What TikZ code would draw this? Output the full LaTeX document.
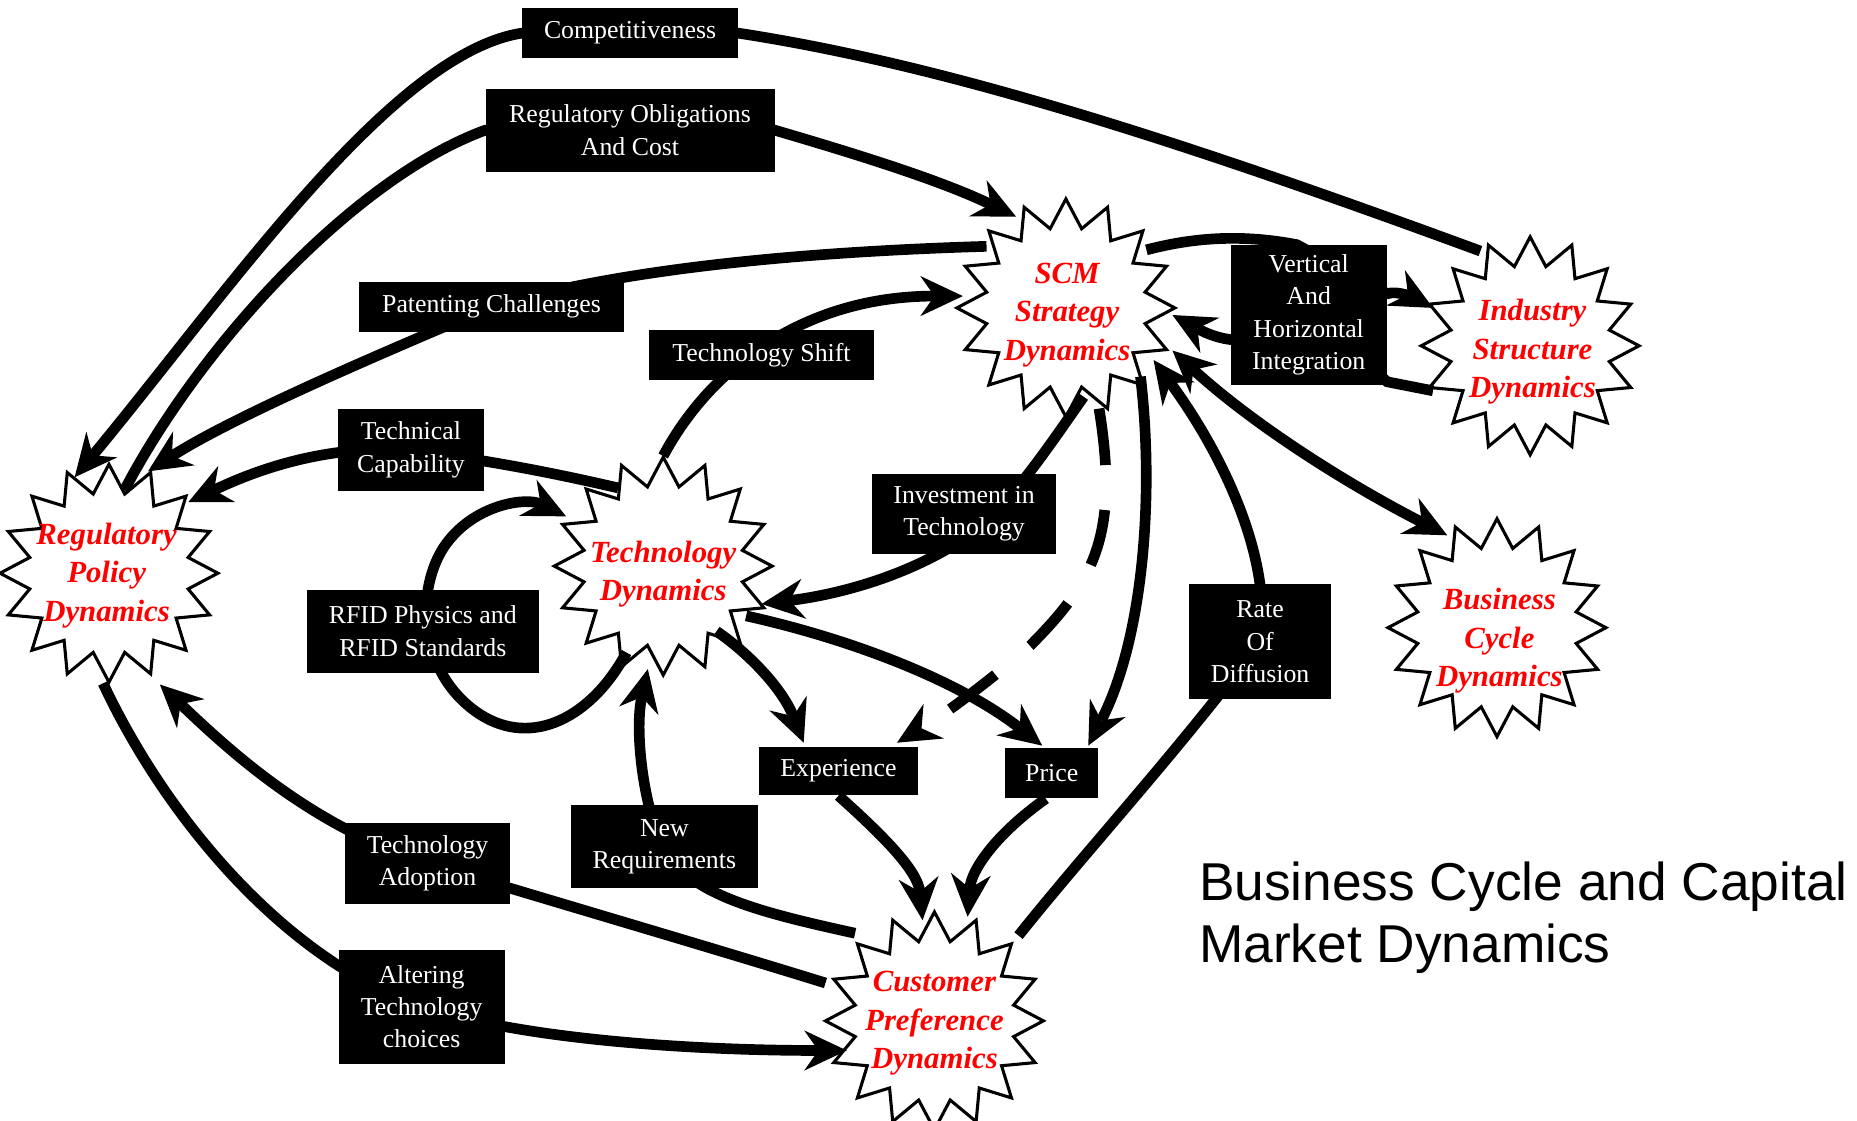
\documentclass[tikz,border=0pt]{standalone}
\usepackage{fontspec}
\setmainfont{Liberation Serif}
\newfontfamily\titlefont{Liberation Sans}
\usetikzlibrary{shapes.geometric,arrows.meta,calc}
\pgfdeclarelayer{stars}
\pgfdeclarelayer{lines}
\pgfsetlayers{stars,lines,main}
\definecolor{burstred}{RGB}{255,0,0}
\tikzset{
  burst/.style={star, star points=16, star point ratio=1.35, minimum size=92pt,
    inner sep=0pt, draw=black, line width=1.3pt, fill=white},
  bursttext/.style={text=burstred, align=center, inner sep=0pt,
    font=\bfseries\itshape\fontsize{13}{16.2}\selectfont},
  lbl/.style={fill=black, text=white, align=center, inner xsep=6pt, inner ysep=3pt,
    font=\fontsize{10.9}{13.7}\selectfont},
  link/.style={line width=4.5pt, draw=black},
  >={Stealth[length=18pt, width=17pt, inset=6pt, line width=0pt]}
}
\begin{document}
\begin{tikzpicture}[x=0.5pt,y=-0.5pt]
\useasboundingbox (0,0) rectangle (1568,946);

% starbursts for the six dynamics
\begin{pgfonlayer}{stars}
  \fill[white] (0,0) rectangle (1568,946);
  \node[burst] (reg)  at (92,484)   {};
  \node[burst] (scm)  at (900,260)  {};
  \node[burst] (ind)  at (1292,292) {};
  \node[burst] (bus)  at (1264,530) {};
  \node[burst] (tech) at (560,478)  {};
  \node[burst] (cust) at (789,862)  {};
\end{pgfonlayer}

\node[bursttext] (regt)  at (90,486)   {Regulatory\\Policy\\Dynamics};
\node[bursttext] (scmt)  at (901,266)  {SCM\\Strategy\\Dynamics};
\node[bursttext] (indt)  at (1294,297) {Industry\\Structure\\Dynamics};
\node[bursttext] (bust)  at (1266,541) {Business\\Cycle\\Dynamics};
\node[bursttext] (techt) at (560,485)  {Technology\\Dynamics};
\node[bursttext] (custt) at (789,864)  {Customer\\Preference\\Dynamics};

% labels on the links
\node[lbl, minimum width=91pt,   minimum height=21pt]   (comp)    at (532,28)   {Competitiveness};
\node[lbl, minimum width=122pt,  minimum height=35pt]   (oblig)   at (532,110)  {Regulatory Obligations\\And Cost};
\node[lbl, minimum width=112pt,  minimum height=21pt]   (patent)  at (415,259)  {Patenting Challenges};
\node[lbl, minimum width=95pt,   minimum height=21pt]   (shift)   at (643,300)  {Technology Shift};
\node[lbl, minimum width=62pt,   minimum height=34.5pt] (techcap) at (347,380)  {Technical\\Capability};
\node[lbl, minimum width=66pt,   minimum height=59pt]   (vert)    at (1105,266) {Vertical\\And\\Horizontal\\Integration};
\node[lbl, minimum width=77.5pt, minimum height=34pt]   (invest)  at (814,434)  {Investment in\\Technology};
\node[lbl, minimum width=98pt,   minimum height=35pt]   (rfid)    at (357,533)  {RFID Physics and\\RFID Standards};
\node[lbl, minimum width=60pt,   minimum height=48.5pt] (rate)    at (1064,542) {Rate\\Of\\Diffusion};
\node[lbl, minimum width=67pt,   minimum height=20.5pt] (exper)   at (708,651)  {Experience};
\node[lbl, minimum width=39.5pt, minimum height=21pt]   (price)   at (888,653)  {Price};
\node[lbl, minimum width=79pt,   minimum height=35pt]   (newreq)  at (561,715)  {New\\Requirements};
\node[lbl, minimum width=70pt,   minimum height=34.5pt] (adopt)   at (361,729)  {Technology\\Adoption};
\node[lbl, minimum width=70pt,   minimum height=48pt]   (alter)   at (356,850)  {Altering\\Technology\\choices};

\node[anchor=north west, align=left, inner sep=0pt,
      font=\titlefont\fontsize{22.5}{26.5}\selectfont] (title) at (1012,727)
      {Business Cycle and Capital\\Market Dynamics};

\begin{pgfonlayer}{lines}
  % competitiveness
  \draw[link,->] ($(ind)+(-42,-80)$) .. controls (1000,120) and (800,55) .. (comp.east)
     -- (comp.west) .. controls (330,45) and (190,250) .. ($(reg)+(-29,-81)$);
  % regulatory obligations
  \draw[link,->] ($(reg)+(13,-70)$) .. controls (170,290) and (300,150) .. (oblig.west)
     -- (oblig.east) .. controls (740,135) and (800,155) .. ($(scm)+(-42,-77)$);
  % patenting challenges
  \draw[link,->] ($(scm)+(-67,-52)$) .. controls (600,215) and (480,240) .. (patent.center)
     .. controls (330,295) and (200,350) .. ($(reg)+(33,-86)$);
  % technology shift
  \draw[link,->] ($(tech)+(0,-93)$) .. controls (600,310) and (680,250) .. ($(scm)+(-87,-10)$);
  % technical capability
  \draw[link,->] ($(tech)+(-38,-66)$) .. controls (470,400) and (420,390) .. (techcap.center)
     .. controls (270,375) and (210,400) .. ($(reg)+(67,-60)$);
  % RFID physics and standards loop
  \draw[link,->] ($(tech)+(-31,73)$) .. controls (500,605) and (450,632) .. (405,603)
     .. controls (350,567) and (350,490) .. (380,455)
     .. controls (405,425) and (445,420) .. ($(tech)+(-82,-42)$);
  % investment in technology
  \draw[link,->] ($(scm)+(15,75)$) .. controls (880,385) and (850,430) .. (814,455)
     .. controls (760,490) and (700,503) .. ($(tech)+(83,32)$);
  % SCM to price
  \draw[link,->] ($(scm)+(63,58)$) .. controls (975,420) and (965,540) .. ($(price.north east)+(-9,-2)$);
  % SCM to experience (dashed)
  \draw[link,->,dash pattern=on 24pt off 19pt] ($(scm)+(28,85)$) .. controls (945,450) and (925,490) .. (870,545)
     .. controls (830,580) and (790,608) .. ($(exper.north east)+(-18,-3)$);
  % technology to price
  \draw[link,->] ($(tech)+(70,42)$) .. controls (720,540) and (810,575) .. ($(price.north)+(-8,-2)$);
  % technology to experience
  \draw[link,->] ($(tech)+(45,55)$) .. controls (630,550) and (660,580) .. ($(exper.north west)+(38,-3)$);
  % experience to customer
  \draw[link,->] (exper.south) .. controls (745,705) and (775,735) .. ($(cust)+(-10,-85)$);
  % price to customer
  \draw[link,->] ($(price.south)+(-5,0)$) .. controls (840,705) and (820,735) .. ($(cust)+(28,-88)$);
  % new requirements
  \draw[link,->] ($(cust)+(-67,-74)$) .. controls (640,770) and (580,755) .. (newreq.center)
     .. controls (545,690) and (535,620) .. ($(tech)+(-13,87)$);
  % technology adoption
  \draw[link,->] ($(cust)+(-92,-32)$) .. controls (600,800) and (480,765) .. (adopt.center)
     .. controls (260,697) and (190,630) .. ($(reg)+(43,94)$);
  % altering technology choices
  \draw[link,->] ($(reg)+(-5,93)$) .. controls (140,690) and (240,810) .. (alter.center)
     .. controls (450,880) and (600,887) .. ($(cust)+(-74,25)$);
  % rate of diffusion
  \draw[link,->] ($(cust)+(71,-72)$) .. controls (920,715) and (990,640) .. (rate.center)
     .. controls (1075,470) and (1030,380) .. ($(scm)+(74,44)$);
  % vertical and horizontal integration
  \draw[link,->] ($(scm)+(68,-49)$) .. controls (1010,200) and (1050,198) .. ($(vert.north)+(-10,0)$)
     -- ($(vert.east)+(0,-18)$) .. controls (1180,245) and (1195,252) .. ($(ind)+(-82,-32)$);
  \draw[link,->] ($(ind)+(-82,38)$) -- ($(vert.south east)+(0,-3)$) -- (vert.center)
     .. controls (1060,300) and (1025,285) .. ($(scm)+(90,6)$);
  % SCM and business cycle
  \draw[link,<->] ($(scm)+(90,36)$) .. controls (1060,360) and (1140,410) .. ($(bus)+(-42,-78)$);
\end{pgfonlayer}
\end{tikzpicture}
\end{document}
